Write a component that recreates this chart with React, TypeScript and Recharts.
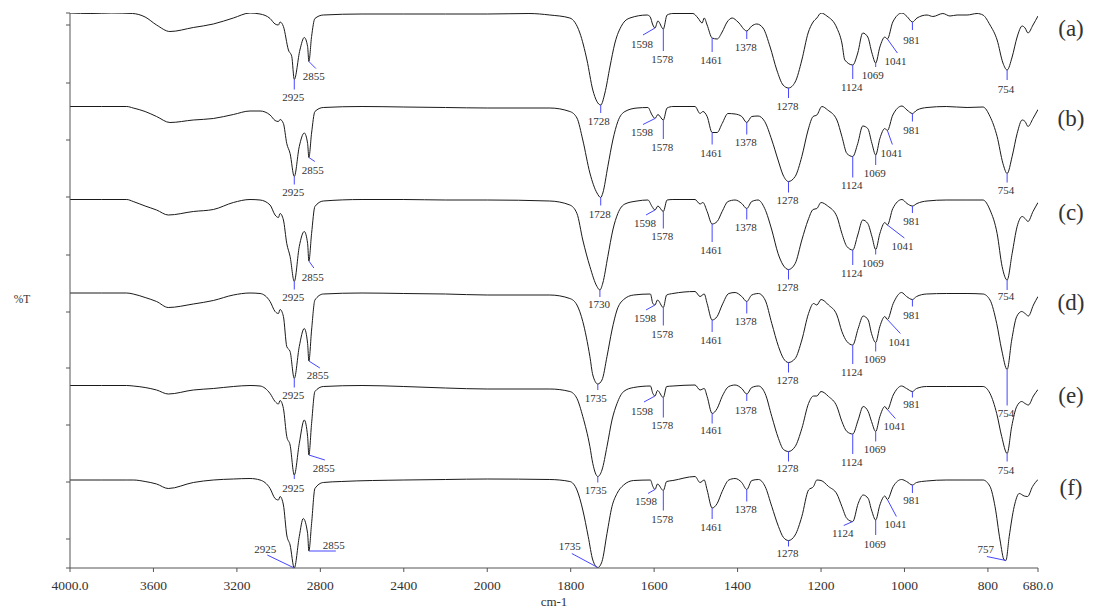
import React from "react";
import { LineChart, Line, XAxis, YAxis, ReferenceDot } from "recharts";

// wavenumber axis: 4000-2000 compressed to half scale, 2000-680 full scale
const toU = (w: number) => (w >= 2000 ? (4000 - w) / 2 : 1000 + (2000 - w));
const fromU = (u: number) => (u <= 1000 ? 4000 - 2 * u : 2000 - (u - 1000));

const xTicks = [4000, 3600, 3200, 2800, 2400, 2000, 1800, 1600, 1400, 1200, 1000, 800, 680];
const yTicks = [0, 5.8, 17.2, 28.6, 40, 51.2, 62.6, 74.2, 85.6, 97, 108.6, 111];

const names = ["(a)", "(b)", "(c)", "(d)", "(e)", "(f)"];
const nameV = [108, 90, 71.2, 53.2, 34.6, 16.2];

const traceA: [number, number][] = [
  [4000, 111.0], [3900, 110.9], [3800, 111.0], [3700, 110.9], [3640, 110.2], [3585, 108.6],
  [3521, 107.3], [3409, 108.1], [3313, 108.8], [3217, 110.0], [3137, 111.0], [3089, 110.8],
  [3041, 109.9], [3017, 108.8], [3001, 108.6], [2993, 109.2], [2977, 108.3], [2953, 103.6],
  [2937, 102.3], [2925, 97.7], [2898, 103.6], [2877, 106.1], [2861, 104.3], [2855, 101.3],
  [2842, 106.3], [2826, 109.9], [2786, 110.6], [2600, 110.8], [2400, 110.8], [2200, 110.8],
  [2000, 110.8], [1900, 110.9], [1850, 110.6], [1802, 110.0], [1778, 107.0], [1761, 101.6],
  [1747, 95.6], [1728, 92.6], [1718, 95.0], [1706, 100.2], [1694, 105.0], [1677, 108.6],
  [1658, 110.0], [1617, 110.6], [1610, 110.3], [1603, 108.6], [1598, 108.0], [1591, 109.4],
  [1578, 107.8], [1569, 110.6], [1555, 110.9], [1507, 110.9], [1495, 110.0], [1485, 109.0],
  [1480, 110.0], [1473, 108.6], [1461, 106.0], [1449, 105.8], [1437, 107.2], [1425, 109.2],
  [1413, 110.0], [1399, 109.2], [1378, 107.4], [1366, 108.4], [1354, 108.8], [1339, 108.0],
  [1322, 104.2], [1306, 99.6], [1291, 96.6], [1278, 96.0], [1262, 97.2], [1246, 101.6],
  [1231, 107.0], [1219, 109.2], [1210, 110.0], [1200, 111.0], [1186, 110.4], [1162, 108.0],
  [1150, 105.0], [1143, 101.6], [1124, 100.6], [1112, 103.0], [1100, 107.0], [1088, 106.2],
  [1078, 103.0], [1069, 101.0], [1059, 104.2], [1047, 106.2], [1041, 105.8], [1028, 109.2],
  [1006, 111.0], [994, 110.3], [981, 109.2], [970, 110.0], [946, 110.6], [932, 110.3],
  [908, 110.9], [891, 110.4], [874, 110.6], [850, 110.6], [826, 110.9], [812, 110.6],
  [795, 108.6], [778, 105.6], [764, 101.0], [754, 99.6], [742, 102.2], [730, 106.2],
  [718, 108.4], [711, 108.0], [704, 107.0], [692, 108.6], [680, 110.4],
];

const traceB: [number, number][] = [
  [4000, 92.3], [3850, 92.3], [3728, 92.3], [3697, 92.0], [3640, 91.3], [3585, 90.3],
  [3521, 89.1], [3409, 89.6], [3313, 89.9], [3217, 90.7], [3137, 91.4], [3089, 91.4],
  [3041, 90.6], [3017, 89.5], [3001, 89.3], [2993, 89.7], [2977, 88.9], [2961, 84.9],
  [2945, 82.9], [2925, 78.3], [2901, 84.3], [2877, 87.0], [2861, 84.9], [2855, 82.1],
  [2842, 87.0], [2826, 91.3], [2786, 92.1], [2600, 92.3], [2400, 92.2], [2200, 92.1],
  [2000, 92.0], [1850, 92.0], [1802, 91.3], [1785, 90.0], [1771, 85.6], [1754, 79.0],
  [1737, 75.0], [1728, 74.1], [1723, 75.0], [1711, 80.3], [1699, 85.6], [1687, 89.3],
  [1670, 91.3], [1641, 92.0], [1615, 92.1], [1605, 90.6], [1598, 89.9], [1591, 90.7],
  [1578, 89.6], [1569, 92.0], [1555, 92.3], [1502, 92.3], [1490, 90.9], [1483, 91.3],
  [1473, 90.3], [1461, 87.1], [1449, 87.1], [1437, 88.9], [1423, 90.9], [1406, 90.8],
  [1390, 90.3], [1378, 89.1], [1366, 90.3], [1351, 90.4], [1335, 89.3], [1318, 85.6],
  [1303, 81.6], [1291, 78.6], [1278, 77.3], [1262, 78.3], [1246, 82.3], [1231, 87.6],
  [1219, 90.3], [1210, 90.6], [1198, 92.3], [1184, 91.6], [1162, 89.6], [1150, 86.3],
  [1138, 82.9], [1124, 82.3], [1112, 84.9], [1100, 88.4], [1088, 87.9], [1078, 84.9],
  [1069, 82.6], [1059, 85.9], [1047, 87.9], [1041, 87.5], [1028, 90.6], [1006, 92.4],
  [994, 91.6], [981, 90.9], [970, 91.6], [946, 92.1], [900, 92.3], [850, 92.1],
  [812, 92.2], [795, 90.3], [778, 86.3], [764, 80.9], [754, 78.9], [742, 82.3],
  [730, 86.9], [718, 89.6], [711, 89.3], [704, 88.3], [692, 89.9], [680, 91.7],
];

const traceC: [number, number][] = [
  [4000, 73.7], [3850, 73.7], [3728, 73.7], [3697, 73.3], [3640, 72.4], [3585, 71.6],
  [3529, 70.6], [3409, 71.3], [3313, 71.7], [3217, 73.1], [3137, 73.7], [3089, 73.6],
  [3041, 72.6], [3017, 70.6], [3001, 70.1], [2993, 70.9], [2977, 69.6], [2961, 64.9],
  [2945, 62.3], [2925, 57.3], [2901, 64.3], [2877, 67.3], [2861, 64.9], [2855, 61.4],
  [2842, 66.9], [2826, 72.3], [2786, 73.4], [2600, 73.7], [2400, 73.7], [2200, 73.6],
  [2000, 73.6], [1850, 73.4], [1802, 72.6], [1785, 70.9], [1771, 65.6], [1754, 60.3],
  [1737, 56.3], [1730, 55.6], [1723, 57.0], [1711, 62.3], [1699, 67.6], [1687, 70.9],
  [1670, 72.8], [1641, 73.4], [1615, 73.6], [1605, 72.3], [1598, 71.6], [1591, 72.4],
  [1578, 71.3], [1569, 73.6], [1555, 73.7], [1502, 73.7], [1490, 72.8], [1483, 73.1],
  [1473, 71.3], [1461, 68.8], [1449, 69.3], [1437, 71.3], [1423, 73.3], [1406, 73.6],
  [1390, 72.9], [1378, 71.9], [1366, 73.3], [1351, 73.6], [1335, 71.9], [1318, 67.6],
  [1303, 62.9], [1291, 60.6], [1278, 59.7], [1262, 60.9], [1246, 65.6], [1231, 69.6],
  [1219, 71.7], [1210, 71.9], [1200, 73.1], [1184, 72.4], [1162, 70.3], [1150, 66.9],
  [1138, 64.3], [1124, 63.6], [1112, 66.6], [1100, 69.6], [1088, 68.9], [1078, 66.3],
  [1069, 63.7], [1059, 66.9], [1047, 69.1], [1041, 68.6], [1028, 71.9], [1006, 73.7],
  [994, 72.9], [981, 72.4], [970, 72.9], [946, 73.4], [900, 73.6], [850, 73.6],
  [812, 73.6], [795, 71.6], [778, 66.9], [766, 60.3], [754, 57.6], [742, 62.9],
  [730, 68.3], [718, 70.3], [711, 69.9], [704, 69.3], [692, 71.3], [680, 73.1],
];

const traceD: [number, number][] = [
  [4000, 55.0], [3850, 55.0], [3728, 55.0], [3697, 54.8], [3640, 54.1], [3585, 53.3],
  [3529, 52.1], [3409, 52.8], [3313, 53.5], [3217, 54.6], [3137, 55.0], [3089, 54.9],
  [3041, 53.3], [3017, 51.3], [3001, 50.9], [2993, 51.7], [2977, 50.3], [2961, 44.3],
  [2945, 43.3], [2925, 37.9], [2901, 44.3], [2877, 47.9], [2861, 44.9], [2855, 41.4],
  [2842, 47.6], [2826, 53.6], [2786, 54.8], [2600, 55.0], [2400, 54.9], [2200, 54.8],
  [2000, 54.6], [1850, 54.6], [1802, 53.9], [1785, 52.6], [1771, 49.3], [1754, 42.3],
  [1747, 38.6], [1735, 36.8], [1725, 37.6], [1713, 42.3], [1701, 47.6], [1689, 51.6],
  [1673, 53.7], [1649, 54.6], [1609, 54.8], [1603, 52.9], [1598, 52.6], [1592, 53.6],
  [1578, 52.1], [1570, 54.6], [1555, 54.9], [1502, 55.3], [1490, 54.3], [1480, 54.8],
  [1473, 52.9], [1461, 49.6], [1449, 50.3], [1437, 52.6], [1421, 54.9], [1406, 55.1],
  [1390, 54.3], [1378, 53.3], [1366, 54.6], [1350, 54.9], [1334, 53.6], [1318, 48.9],
  [1302, 44.3], [1290, 41.9], [1278, 41.1], [1262, 41.9], [1246, 45.6], [1230, 50.9],
  [1218, 52.9], [1210, 52.6], [1200, 53.7], [1182, 52.6], [1162, 50.6], [1150, 47.3],
  [1138, 45.3], [1124, 44.6], [1111, 47.9], [1099, 50.4], [1087, 49.6], [1079, 46.9],
  [1069, 45.1], [1059, 48.3], [1047, 50.3], [1041, 49.7], [1027, 52.9], [1007, 55.1],
  [995, 54.3], [981, 53.7], [971, 54.3], [947, 54.8], [900, 54.9], [850, 54.9],
  [812, 54.8], [795, 53.6], [779, 48.9], [767, 43.6], [754, 39.7], [743, 45.6],
  [731, 50.3], [719, 51.3], [711, 50.9], [703, 50.4], [691, 52.6], [680, 54.3],
];

const traceE: [number, number][] = [
  [4000, 36.5], [3850, 36.5], [3728, 36.5], [3697, 36.4], [3640, 36.1], [3585, 35.6],
  [3529, 34.8], [3409, 35.6], [3313, 35.9], [3217, 36.3], [3137, 36.5], [3089, 36.4],
  [3041, 34.9], [3017, 33.3], [3001, 32.8], [2993, 33.5], [2977, 31.9], [2961, 26.3],
  [2945, 24.6], [2925, 18.6], [2901, 24.9], [2877, 29.6], [2861, 26.3], [2855, 22.6],
  [2842, 28.9], [2826, 35.3], [2786, 36.3], [2600, 36.5], [2400, 36.3], [2200, 36.0],
  [2000, 35.8], [1850, 35.8], [1802, 35.3], [1785, 33.9], [1771, 30.3], [1754, 24.3],
  [1747, 20.9], [1735, 18.3], [1725, 19.6], [1713, 24.3], [1701, 29.6], [1689, 32.9],
  [1673, 35.3], [1649, 36.1], [1609, 36.4], [1603, 34.9], [1598, 34.4], [1592, 35.5],
  [1578, 34.1], [1570, 36.3], [1555, 36.4], [1502, 36.6], [1490, 35.6], [1480, 35.9],
  [1473, 34.3], [1461, 30.9], [1449, 31.9], [1437, 34.3], [1421, 36.3], [1406, 36.6],
  [1390, 35.9], [1378, 34.8], [1366, 36.1], [1350, 36.4], [1334, 34.9], [1318, 30.3],
  [1302, 25.9], [1290, 23.7], [1278, 23.3], [1262, 24.3], [1246, 27.9], [1230, 32.9],
  [1218, 34.4], [1210, 34.4], [1200, 35.3], [1182, 34.3], [1162, 32.3], [1150, 29.3],
  [1138, 27.3], [1124, 26.8], [1111, 29.6], [1099, 32.3], [1087, 31.3], [1079, 29.3],
  [1069, 27.3], [1059, 30.3], [1047, 32.3], [1041, 31.7], [1027, 34.6], [1007, 36.4],
  [995, 35.9], [981, 35.3], [971, 35.9], [947, 36.3], [900, 36.3], [850, 36.3],
  [812, 36.3], [795, 34.9], [779, 30.9], [767, 26.3], [754, 22.9], [743, 28.3],
  [731, 32.3], [719, 33.3], [711, 32.9], [703, 32.6], [691, 34.4], [680, 35.7],
];

const traceF: [number, number][] = [
  [4000, 17.6], [3850, 17.6], [3728, 17.6], [3697, 17.6], [3640, 17.3], [3585, 16.8],
  [3529, 15.9], [3409, 17.1], [3313, 17.6], [3217, 17.8], [3137, 17.9], [3089, 17.6],
  [3041, 15.9], [3017, 13.9], [3001, 13.6], [2993, 14.3], [2977, 12.6], [2961, 6.6],
  [2945, 4.6], [2925, 0.0], [2901, 6.3], [2882, 9.9], [2861, 6.9], [2855, 3.4],
  [2842, 8.9], [2826, 15.9], [2786, 17.1], [2700, 17.3], [2400, 17.6], [2200, 17.7],
  [2000, 17.8], [1850, 17.7], [1802, 17.3], [1785, 15.6], [1771, 11.6], [1758, 6.3],
  [1747, 1.6], [1735, 0.1], [1725, 1.3], [1713, 6.9], [1701, 12.3], [1689, 14.9],
  [1673, 16.6], [1649, 17.5], [1609, 17.6], [1603, 16.3], [1598, 15.7], [1592, 16.8],
  [1578, 15.5], [1570, 17.3], [1555, 17.5], [1502, 18.3], [1490, 17.1], [1480, 17.6],
  [1473, 15.6], [1461, 12.0], [1449, 12.9], [1437, 15.3], [1421, 17.6], [1406, 17.9],
  [1390, 17.1], [1378, 15.7], [1366, 17.5], [1350, 17.7], [1334, 16.3], [1318, 12.3],
  [1302, 8.3], [1290, 6.1], [1278, 5.5], [1262, 6.6], [1246, 10.3], [1230, 15.6],
  [1218, 16.3], [1210, 17.6], [1200, 17.5], [1182, 16.3], [1162, 14.8], [1150, 12.3],
  [1138, 9.9], [1124, 9.3], [1111, 12.9], [1099, 14.6], [1087, 13.9], [1079, 11.6],
  [1069, 9.6], [1059, 12.6], [1047, 14.4], [1041, 13.7], [1027, 16.3], [1007, 17.7],
  [995, 17.3], [981, 16.6], [971, 17.1], [947, 17.4], [900, 17.6], [850, 17.6],
  [812, 17.6], [795, 16.3], [783, 12.3], [771, 5.6], [761, 1.6], [757, 1.5],
  [749, 6.3], [737, 12.3], [725, 14.9], [713, 14.4], [705, 14.3], [693, 16.3], [680, 17.7],
];

const peaksA = [2925, 2855, 1728, 1598, 1578, 1461, 1378, 1278, 1124, 1069, 1041, 981, 754];
const peaksB = [2925, 2855, 1728, 1598, 1578, 1461, 1378, 1278, 1124, 1069, 1041, 981, 754];
const peaksC = [2925, 2855, 1730, 1598, 1578, 1461, 1378, 1278, 1124, 1069, 1041, 981, 754];
const peaksD = [2925, 2855, 1735, 1598, 1578, 1461, 1378, 1278, 1124, 1069, 1041, 981, 754];
const peaksE = [2925, 2855, 1735, 1598, 1578, 1461, 1378, 1278, 1124, 1069, 1041, 981, 754];
const peaksF = [2925, 2855, 1735, 1598, 1578, 1461, 1378, 1278, 1124, 1069, 1041, 981, 757];

// leader geometry per peak, px from the peak: [line dx, line dy, text dx, text dy]
const leadA = [
  [0, 10, -1, 18], [7, 7, 5, 15], [0, 8, -2, 16], [-12, 7, -13, 16], [0, 22, -1, 30],
  [0, 14, -1, 22], [0, 8, -1, 16], [0, 10, -1, 18], [0, 14, -1, 22], [0, 4, -3, 12],
  [10, 14, 8, 22], [0, 8, -1, 18], [0, 10, -1, 19],
];
const leadB = [
  [0, 8, -1, 16], [6, 4, 4, 13], [0, 8, -1, 17], [-12, 6, -13, 14], [0, 19, -1, 27],
  [0, 12, -1, 21], [0, 12, -1, 20], [0, 11, -1, 19], [0, 21, -1, 29], [0, 10, -1, 18],
  [5, 14, 4, 23], [0, 8, -1, 17], [0, 9, -1, 17],
];
const leadC = [
  [0, 8, -1, 16], [5, 7, 4, 16], [0, 7, -1, 14], [-9, 5, -10, 13], [0, 17, -1, 25],
  [0, 18, -1, 26], [0, 11, -1, 19], [0, 10, -1, 18], [0, 15, -1, 23], [0, 5, -3, 14],
  [17, 13, 15, 21], [0, 7, -1, 15], [0, 10, -1, 16],
];
const leadD = [
  [0, 9, -1, 17], [11, 7, 9, 14], [0, 6, -2, 14], [-9, 5, -10, 13], [0, 18, -1, 27],
  [0, 12, -1, 20], [0, 12, -1, 20], [0, 10, -1, 18], [0, 19, -1, 27], [0, 9, -1, 17],
  [13, 14, 12, 23], [0, 7, -1, 16], [0, 36, -1, 44],
];
const leadE = [
  [0, 4, -1, 13], [16, 5, 15, 13], [0, 6, -2, 14], [-11, 6, -13, 15], [0, 20, -1, 28],
  [0, 10, -1, 17], [0, 7, -1, 16], [0, 10, -1, 17], [0, 20, -1, 28], [0, 10, -1, 18],
  [8, 9, 7, 17], [0, 6, -1, 13], [0, 8, -1, 17],
];
const leadF = [
  [-27, -13, -29, -19], [27, 0, 25, -6], [-26, -14, -28, -21], [-7, 4, -9, 12], [0, 20, -1, 29],
  [0, 11, -1, 19], [0, 12, -1, 20], [0, 6, -1, 13], [-9, 4, -10, 12], [0, 15, -1, 24],
  [9, 17, 8, 25], [0, 8, -1, 15], [-19, -4, -20, -11],
];

const traces = [traceA, traceB, traceC, traceD, traceE, traceF];
const peaks = [peaksA, peaksB, peaksC, peaksD, peaksE, peaksF];
const leads = [leadA, leadB, leadC, leadD, leadE, leadF];

const SERIF = '"Liberation Serif", "Times New Roman", serif';
const INK = "#333";
const LEADER = "#4646ff";

const toRows = (t: [number, number][]) => t.map(([w, v]) => ({ u: toU(w), v }));
const valueAt = (t: [number, number][], w: number) => (t.find((p) => p[0] === w) || [w, 0])[1];

const fmtTick = (u: number) => {
  const w = Math.round(fromU(u));
  return w === 4000 || w === 680 ? w.toFixed(1) : String(w);
};

export default function App() {
  return (
    <div style={{ position: "absolute", left: 0, top: 0, width: 1095, height: 608, background: "#fff" }}>
      <LineChart
        width={1095}
        height={608}
        margin={{ top: 13, right: 57, bottom: 0, left: 0 }}
        style={{ fontFamily: SERIF }}
      >
        <XAxis
          type="number"
          dataKey="u"
          domain={[0, 2320]}
          ticks={xTicks.map(toU)}
          tickFormatter={fmtTick}
          interval={0}
          height={40}
          tickSize={4}
          tickMargin={8}
          stroke="#555"
          tick={{ fontSize: 13.5, fill: INK, fontFamily: SERIF }}
          allowDataOverflow
          label={{
            content: (p: any) => (
              <text
                x={p.viewBox.x + p.viewBox.width / 2}
                y={p.viewBox.y + 33}
                dy="0.35em"
                textAnchor="middle"
                fontSize={13}
                fill={INK}
                fontFamily={SERIF}
              >
                cm-1
              </text>
            ),
          }}
        />
        <YAxis
          type="number"
          domain={[0, 111]}
          ticks={yTicks}
          tickFormatter={() => ""}
          width={70}
          tickSize={4}
          stroke="#555"
          allowDataOverflow
          label={{
            content: (p: any) => (
              <text
                x={p.viewBox.x + 22}
                y={p.viewBox.y + p.viewBox.height / 2 + 8}
                dy="0.35em"
                textAnchor="middle"
                fontSize={11.5}
                fill={INK}
                fontFamily={SERIF}
              >
                %T
              </text>
            ),
          }}
        />
        {traces.map((t, i) => (
          <Line
            key={names[i]}
            data={toRows(t)}
            dataKey="v"
            type="monotone"
            stroke="#1a1a1a"
            strokeWidth={1}
            dot={false}
            activeDot={false}
            isAnimationActive={false}
          />
        ))}
        {traces.map((t, i) =>
          peaks[i].map((w, j) => {
            const [dx, dy, tx, ty] = leads[i][j];
            return (
              <ReferenceDot
                key={`${names[i]}-${w}`}
                x={toU(w)}
                y={valueAt(t, w)}
                r={0}
                ifOverflow="visible"
                shape={(p: any) => (
                  <g>
                    <line x1={p.cx} y1={p.cy} x2={p.cx + dx} y2={p.cy + dy} stroke={LEADER} strokeWidth={1} />
                    <text
                      x={p.cx + tx}
                      y={p.cy + ty}
                      dy="0.35em"
                      textAnchor="middle"
                      fontSize={11}
                      fill={INK}
                      fontFamily={SERIF}
                    >
                      {w}
                    </text>
                  </g>
                )}
              />
            );
          })
        )}
        {names.map((n, i) => (
          <ReferenceDot
            key={n}
            x={toU(680)}
            y={nameV[i]}
            r={0}
            ifOverflow="visible"
            shape={(p: any) => (
              <text x={p.cx + 33} y={p.cy} dy="0.35em" textAnchor="middle" fontSize={23} fill={INK} fontFamily={SERIF}>
                {n}
              </text>
            )}
          />
        ))}
      </LineChart>
    </div>
  );
}
